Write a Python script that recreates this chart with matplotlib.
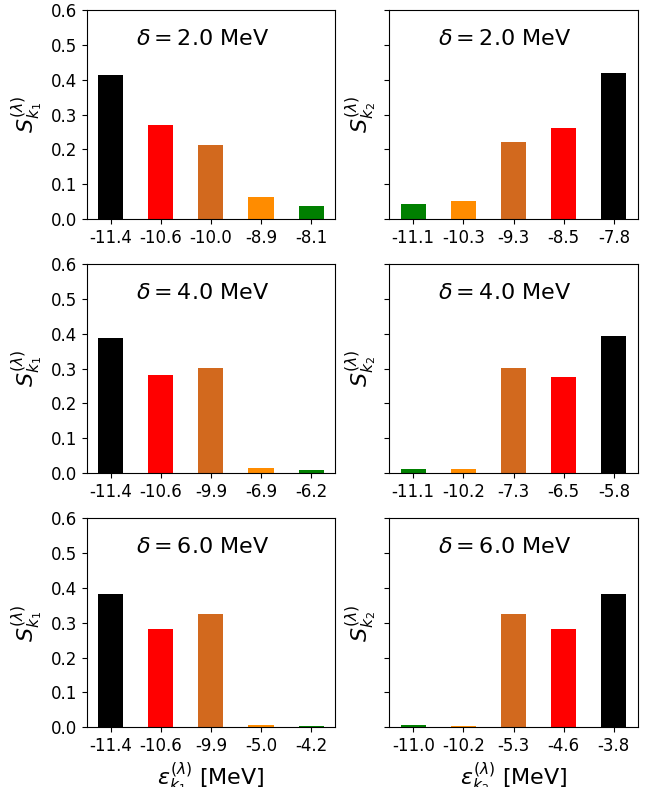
import matplotlib
matplotlib.use("Agg")
import matplotlib.pyplot as plt

deltas = [2.0, 4.0, 6.0]

# k1 panels (left column)
k1_labels = [
    ["-11.4", "-10.6", "-10.0", "-8.9", "-8.1"],
    ["-11.4", "-10.6", "-9.9", "-6.9", "-6.2"],
    ["-11.4", "-10.6", "-9.9", "-5.0", "-4.2"],
]
k1_values = [
    [0.413, 0.270, 0.213, 0.063, 0.038],
    [0.389, 0.281, 0.302, 0.014, 0.010],
    [0.381, 0.283, 0.324, 0.006, 0.004],
]
k1_colors = ["black", "red", "chocolate", "darkorange", "green"]

# k2 panels (right column)
k2_labels = [
    ["-11.1", "-10.3", "-9.3", "-8.5", "-7.8"],
    ["-11.1", "-10.2", "-7.3", "-6.5", "-5.8"],
    ["-11.0", "-10.2", "-5.3", "-4.6", "-3.8"],
]
k2_values = [
    [0.043, 0.052, 0.221, 0.261, 0.419],
    [0.011, 0.011, 0.302, 0.276, 0.395],
    [0.007, 0.004, 0.324, 0.281, 0.383],
]
k2_colors = ["green", "darkorange", "chocolate", "red", "black"]

fig, axes = plt.subplots(3, 2, figsize=(6.57, 7.87), dpi=100, sharey=True)
fig.subplots_adjust(left=0.132, right=0.9706, bottom=0.0759, top=0.9873,
                    wspace=0.219, hspace=0.215)

for i, d in enumerate(deltas):
    for j, (labels, vals, cols, k) in enumerate([
            (k1_labels[i], k1_values[i], k1_colors, 1),
            (k2_labels[i], k2_values[i], k2_colors, 2)]):
        ax = axes[i, j]
        ax.bar(labels, vals, width=0.5, color=cols)
        ax.set_ylim(0, 0.6)
        ax.set_yticks([0.0, 0.1, 0.2, 0.3, 0.4, 0.5, 0.6])
        ax.tick_params(labelsize=12)
        ax.text(0.5, 0.5, r'$\delta = %.1f$ MeV' % d, fontsize=16)
        ax.set_ylabel(r'$S_{k_%d}^{(\lambda)}$' % k, fontsize=16)
        if i == 2:
            ax.set_xlabel(r'$\varepsilon_{k_%d}^{(\lambda)}$ [MeV]' % k, fontsize=16)

fig.savefig("out.png", dpi=100)
